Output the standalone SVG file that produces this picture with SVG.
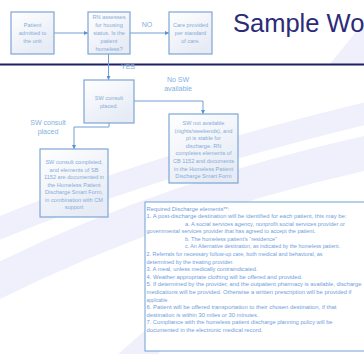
<svg xmlns="http://www.w3.org/2000/svg" width="364" height="354" viewBox="0 0 364 354">
<defs>
<linearGradient id="boxg" x1="0" y1="0" x2="0.6" y2="1">
<stop offset="0" stop-color="#ffffff"/>
<stop offset="1" stop-color="#e6ebf5"/>
</linearGradient>
<marker id="arr" viewBox="0 0 6 6" refX="6" refY="3" markerWidth="4" markerHeight="4" markerUnits="userSpaceOnUse" orient="auto">
<path d="M0,0 L6,3 L0,6 z" fill="#5b8fd0"/>
</marker>
<style>
.box{fill:url(#boxg);stroke:#7ea6d4;stroke-width:1.2}
.bt{font-family:"Liberation Sans",Arial,sans-serif;font-size:5.6px;fill:#86acd9;text-anchor:middle}
.lbl{font-family:"Liberation Sans",Arial,sans-serif;font-size:7px;fill:#7fb0e2;text-anchor:middle}
.con{fill:none;stroke:#6f9fd8;stroke-width:1}
.req{font-family:"Liberation Sans",Arial,sans-serif;font-size:5.8px;fill:#6f9edb}
.bg{fill:none;stroke:#eff0fb}
</style>
</defs>
<rect width="364" height="354" fill="#ffffff"/>
<g id="background">
<path class="bg" d="M-10,232 Q150,165 380,110" stroke-width="22"/>
<path class="bg" d="M-10,285 Q170,195 380,150" stroke-width="34"/>
<path class="bg" d="M120,370 Q250,250 380,215" stroke-width="26"/>
<path d="M330,64 L364,22 L364,64 z" fill="#eff0fb"/>
</g>
<g id="header">
<line x1="0" y1="64.5" x2="364" y2="64.5" stroke="#1f1f66" stroke-width="2"/>
<text x="233" y="32" font-family="'Liberation Sans',Arial,sans-serif" font-size="25.5" fill="#2b2b78">Sample Workflow</text>
</g>
<g id="connectors">
<line class="con" x1="54" y1="33" x2="88" y2="33" marker-end="url(#arr)"/>
<line class="con" x1="130" y1="33" x2="169" y2="33" marker-end="url(#arr)"/>
<line class="con" x1="108.5" y1="54" x2="108.5" y2="80" marker-end="url(#arr)"/>
<polyline class="con" points="134,101 203,101 203,114" marker-end="url(#arr)"/>
<polyline class="con" points="109,123 109,127 74,127 74,149" marker-end="url(#arr)"/>
<text class="lbl" x="147" y="27" font-size="6.5">NO</text>
<text class="lbl" x="128" y="69" font-size="5.5">YES</text>
<text class="lbl" x="178" y="82">No SW</text>
<text class="lbl" x="178" y="91">available</text>
<text class="lbl" x="48" y="125">SW consult</text>
<text class="lbl" x="48" y="134">placed</text>
</g>
<g id="n1">
<rect class="box" x="11" y="12" width="43" height="42"/>
<text class="bt" x="32.5" y="27">Patient</text>
<text class="bt" x="32.5" y="35">admitted to</text>
<text class="bt" x="32.5" y="43">the unit</text>
</g>
<g id="n2">
<rect class="box" x="88" y="12" width="42" height="42"/>
<text class="bt" x="109" y="19">RN assesses</text>
<text class="bt" x="109" y="27">for housing</text>
<text class="bt" x="109" y="35">status. Is the</text>
<text class="bt" x="109" y="43">patient</text>
<text class="bt" x="109" y="50.5">homeless?</text>
</g>
<g id="n3">
<rect class="box" x="169" y="12" width="43" height="42"/>
<text class="bt" x="190.5" y="27" fill="#6c93c9">Care provided</text>
<text class="bt" x="190.5" y="35" fill="#6c93c9">per standard</text>
<text class="bt" x="190.5" y="43" fill="#6c93c9">of care.</text>
</g>
<g id="n4">
<rect class="box" x="84" y="80" width="50" height="43"/>
<text class="bt" x="109" y="100">SW consult</text>
<text class="bt" x="109" y="108">placed.</text>
</g>
<g id="n5">
<rect class="box" x="169" y="114" width="69" height="69"/>
<text class="bt" x="203.5" y="125">SW not available</text>
<text class="bt" x="203.5" y="132.6">(nights/weekends), and</text>
<text class="bt" x="203.5" y="140.2">pt is stable for</text>
<text class="bt" x="203.5" y="147.8">discharge. RN</text>
<text class="bt" x="203.5" y="155.4">completes elements of</text>
<text class="bt" x="203.5" y="163">CB 1152 and documents</text>
<text class="bt" x="203.5" y="170.6">in the Homeless Patient</text>
<text class="bt" x="203.5" y="178.2">Discharge Smart Form</text>
</g>
<g id="n6">
<rect class="box" x="40" y="149" width="68" height="68"/>
<text class="bt" x="74" y="164">SW consult completed,</text>
<text class="bt" x="74" y="171.5">and elements of SB</text>
<text class="bt" x="74" y="179">1152 are documented in</text>
<text class="bt" x="74" y="186.5">the Homeless Patient</text>
<text class="bt" x="74" y="194">Discharge Smart Form,</text>
<text class="bt" x="74" y="201.5">in combination with CM</text>
<text class="bt" x="74" y="209">support</text>
</g>
<g id="n7">
<rect x="145" y="202" width="222" height="149" fill="#ffffff" stroke="#6f9fd8" stroke-width="1"/>
<text class="req" x="146.5" y="210.5" textLength="83" lengthAdjust="spacingAndGlyphs">Required Discharge elements**:</text>
<text class="req" x="146.5" y="218" textLength="200" lengthAdjust="spacingAndGlyphs">1. A post-discharge destination will be identified for each patient, this may be:</text>
<text class="req" x="185" y="225.6" textLength="160" lengthAdjust="spacingAndGlyphs">a. A social services agency, nonprofit social services provider or</text>
<text class="req" x="146.5" y="233.2" textLength="169" lengthAdjust="spacingAndGlyphs">governmental services provider that has agreed to accept the patient.</text>
<text class="req" x="185" y="240.8" textLength="92" lengthAdjust="spacingAndGlyphs">b. The homeless patient’s “residence”</text>
<text class="req" x="185" y="248.4" textLength="155" lengthAdjust="spacingAndGlyphs">c. An Alternative destination, as indicated by the homeless patient.</text>
<text class="req" x="146.5" y="256" textLength="176" lengthAdjust="spacingAndGlyphs">2. Referrals for necessary follow-up care, both medical and behavioral, as</text>
<text class="req" x="146.5" y="263.6" textLength="87" lengthAdjust="spacingAndGlyphs">determined by the treating provider.</text>
<text class="req" x="146.5" y="271.2" textLength="111" lengthAdjust="spacingAndGlyphs">3. A meal, unless medically contraindicated.</text>
<text class="req" x="146.5" y="278.8" textLength="156" lengthAdjust="spacingAndGlyphs">4. Weather appropriate clothing will be offered and provided.</text>
<text class="req" x="146.5" y="286.4" textLength="215" lengthAdjust="spacingAndGlyphs">5. If determined by the provider, and the outpatient pharmacy is available, discharge</text>
<text class="req" x="146.5" y="294" textLength="205" lengthAdjust="spacingAndGlyphs">medications will be provided. Otherwise a written prescription will be provided if</text>
<text class="req" x="146.5" y="301.6" textLength="22" lengthAdjust="spacingAndGlyphs">applicable.</text>
<text class="req" x="146.5" y="309.2" textLength="190" lengthAdjust="spacingAndGlyphs">6. Patient will be offered transportation to their chosen destination, if that</text>
<text class="req" x="146.5" y="316.8" textLength="112" lengthAdjust="spacingAndGlyphs">destination is within 30 miles or 30 minutes.</text>
<text class="req" x="146.5" y="324.4" textLength="186" lengthAdjust="spacingAndGlyphs">7. Compliance with the homeless patient discharge planning policy will be</text>
<text class="req" x="146.5" y="332" textLength="116" lengthAdjust="spacingAndGlyphs">documented in the electronic medical record.</text>
</g>
</svg>
